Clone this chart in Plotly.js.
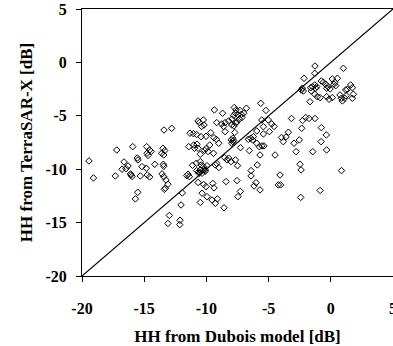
<!DOCTYPE html>
<html>
<head>
<meta charset="utf-8">
<script src="https://cdn.plot.ly/plotly-3.0.1.min.js"></script>
<style>html,body{margin:0;padding:0;background:#fff;}#chart{width:393px;height:346px;}</style>
</head>
<body>
<div id="chart"></div>
<script>
// HH backscatter from the Dubois model (x) and from TerraSAR-X (y), dB
const duboisHH = [
-19.44,-19.08,-17.21,-17.32,-16.62,-16.30,-16.46,-16.78,-15.92,-16.06,-15.98,-16.10,-15.55,-15.50,-15.31,-15.52,-15.71,-15.18,-14.83,-14.80,
-14.56,-14.45,-14.77,-14.69,-14.15,-14.75,-14.56,-13.41,-12.79,-13.49,-13.35,-13.59,-13.43,-13.46,-13.43,-13.57,-13.43,-13.25,-13.09,-13.30,
-13.38,-12.98,-13.09,-12.12,-12.14,-12.04,-11.94,-11.32,-11.05,-10.79,-10.43,-10.03,-9.65,-9.39,-9.20,-10.57,-10.25,-10.19,-10.38,-10.67,
-9.36,-8.70,-9.17,-8.77,-8.62,-8.50,-8.21,-7.96,-7.78,-7.64,-7.94,-7.54,-7.35,-7.14,-7.76,-7.62,-7.67,-7.46,-7.19,-7.00,
-6.79,-7.30,-7.82,-8.50,-7.72,-7.88,-5.63,-5.21,-11.42,-11.02,-10.75,-10.67,-10.96,-10.49,-10.15,-9.87,-9.73,-9.43,-10.03,-9.01,
-11.12,-10.81,-10.49,-10.41,-10.22,-9.95,-10.09,-9.28,-9.01,-9.17,-11.48,-11.58,-11.37,-10.62,-10.49,-10.22,-10.35,-10.78,-10.09,-10.59,
-10.67,-10.22,-10.03,-9.49,-9.39,-10.35,-9.95,-9.55,-9.28,-9.12,-10.49,-8.58,-8.42,-7.54,-7.27,-7.46,-8.53,-8.34,-8.21,-7.67,
-7.50,-8.02,-8.00,-7.88,-7.82,-7.96,-7.26,-6.55,-6.63,-6.44,-6.23,-6.28,-5.95,-5.75,-5.53,-5.37,-5.69,-5.42,-5.95,-4.56,
-3.82,-3.96,-3.60,-3.41,-4.48,-2.96,-2.53,-2.79,-1.45,-0.78,-0.36,-0.34,-5.55,-5.02,-4.75,-5.42,-4.94,-5.91,-6.41,-6.41,
-6.01,-6.17,-5.69,-4.08,-4.22,-4.04,-2.47,-2.39,-2.42,-0.86,0.86,-3.16,-2.27,-2.03,-1.75,-1.27,-2.34,-0.76,-1.27,-1.29,
1.01,-2.15,-2.29,-2.21,-2.37,-1.61,-1.48,-1.29,-1.13,-1.21,-1.56,-0.76,-0.60,-0.41,-0.33,-0.22,-0.06,0.12,0.32,0.53,
0.26,0.40,-1.29,-1.08,-0.86,-0.33,-0.14,0.12,-1.67,0.74,0.85,0.93,1.12,1.23,1.20,1.33,1.60,1.73,1.81,1.73
];
const terrasarHH = [
-9.23,-10.82,-8.20,-10.63,-9.32,-9.70,-9.95,-10.00,-7.89,-10.54,-10.68,-10.44,-8.95,-9.13,-10.63,-12.16,-12.78,-9.76,-9.91,-7.89,
-8.20,-8.34,-8.51,-8.71,-9.54,-10.54,-10.72,-6.33,-6.17,-8.04,-8.26,-8.51,-8.67,-9.54,-9.72,-10.44,-10.70,-11.01,-11.41,-11.78,
-11.89,-14.33,-15.08,-14.78,-15.19,-13.35,-12.22,-6.63,-6.67,-6.75,-6.95,-6.92,-6.58,-7.05,-7.20,-5.64,-5.39,-5.86,-6.00,-5.48,
-4.45,-4.76,-5.64,-5.76,-6.00,-5.64,-5.48,-5.86,-5.95,-5.70,-5.30,-5.55,-5.30,-5.16,-4.22,-4.45,-4.76,-4.92,-4.86,-4.76,
-4.29,-4.50,-4.97,-6.48,-6.56,-7.10,-3.83,-4.50,-7.89,-7.73,-7.66,-8.04,-8.04,-8.60,-8.24,-8.34,-7.73,-8.51,-8.08,-7.57,
-9.63,-9.44,-9.29,-9.60,-9.76,-9.67,-10.07,-9.60,-9.85,-9.46,-10.47,-10.60,-10.70,-10.23,-10.07,-10.07,-10.38,-10.13,-10.19,-10.38,
-11.24,-11.43,-11.63,-11.33,-11.75,-12.25,-12.57,-12.88,-13.19,-12.78,-13.11,-13.61,-11.16,-11.07,-12.08,-12.57,-8.92,-9.13,-8.97,-9.13,
-9.67,-9.29,-7.26,-7.42,-7.30,-7.57,-7.98,-8.26,-7.20,-7.10,-6.95,-7.26,-7.57,-7.89,-7.82,-7.82,-8.67,-6.70,-6.42,-6.00,
-7.42,-7.03,-6.98,-6.54,-8.67,-7.57,-7.26,-8.36,-8.36,-7.42,-6.79,-8.20,-5.39,-5.39,-5.76,-6.02,-6.48,-9.60,-10.13,-10.63,
-11.26,-11.57,-11.94,-10.54,-11.47,-11.47,-9.54,-10.07,-12.64,-11.99,-10.13,-5.25,-5.44,-5.16,-5.25,-5.25,-6.17,-6.11,-0.34,-1.02,
-0.55,-1.49,-2.42,-2.68,-2.58,-2.37,-2.27,-2.11,-2.27,-2.42,-2.68,-1.74,-1.86,-2.05,-2.42,-2.27,-2.49,-1.55,-1.86,-1.49,
-2.05,-2.18,-2.98,-3.21,-3.30,-3.21,-3.45,-3.30,-3.68,-3.05,-3.36,-3.61,-3.36,-3.12,-2.58,-2.52,-2.11,-2.37,-2.98,-3.36
];
// 1:1 reference line
const oneToOne = [-20, 5];
const tickVals = [-20, -15, -10, -5, 0, 5];
const tickText = ['-20', '-15', '-10', '-5', '0', '5'];
const xTitle = 'HH from Dubois model [dB]';
const yTitle = 'HH from TerraSAR-X [dB]';

const serif = 'Liberation Serif, Times New Roman, serif';
const tickFont = {family: serif, size: 16, color: '#000', weight: 700};
const titleFont = {family: serif, size: 17, color: '#000', weight: 700};

const traces = [
  {x: oneToOne, y: oneToOne, mode: 'lines', type: 'scatter',
   line: {color: '#000', width: 1.2}, hoverinfo: 'skip', showlegend: false},
  {x: duboisHH, y: terrasarHH, mode: 'markers', type: 'scatter',
   marker: {symbol: 'diamond-open', size: 5, color: '#000', line: {width: 1, color: '#000'}},
   showlegend: false}
];

const axisBase = {
  range: [-20, 5], tickmode: 'array', tickvals: tickVals, ticktext: tickText,
  ticks: 'outside', ticklen: 5, tickwidth: 1, tickcolor: '#000',
  showline: true, linecolor: '#000', linewidth: 1,
  showgrid: false, zeroline: false, tickfont: tickFont,
  ticklabeloverflow: 'allow'
};

const layout = {
  width: 393, height: 346,
  margin: {l: 82, r: 0, t: 9, b: 70},
  paper_bgcolor: '#fff', plot_bgcolor: '#fff',
  showlegend: false,
  xaxis: Object.assign({}, axisBase, {mirror: true, ticklabelstandoff: 13,
    title: {text: xTitle, font: titleFont, standoff: 16}}),
  yaxis: Object.assign({}, axisBase, {ticklabelstandoff: 6,
    title: {text: yTitle, font: titleFont, standoff: 8}})
};

Plotly.newPlot('chart', traces, layout, {staticPlot: true, displayModeBar: false});
</script>
</body>
</html>
